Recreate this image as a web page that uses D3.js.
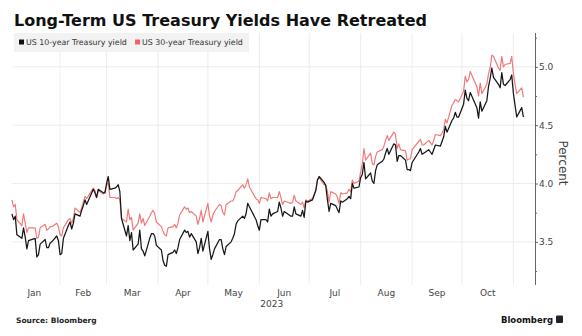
<!DOCTYPE html>
<html>
<head>
<meta charset="utf-8">
<script src="https://cdn.jsdelivr.net/npm/d3@7"></script>
<style>
  html, body { margin: 0; padding: 0; background: #fff; }
  svg { display: block; }
  text { font-family: "DejaVu Sans", sans-serif; }
</style>
</head>
<body>
<svg id="chart" width="582" height="336"></svg>
<script>
// Daily closing yields, 2023 (percent)
const dates = [
  "2023-01-03","2023-01-04","2023-01-05","2023-01-06","2023-01-09","2023-01-10","2023-01-11","2023-01-12","2023-01-13","2023-01-17",
  "2023-01-18","2023-01-19","2023-01-20","2023-01-23","2023-01-24","2023-01-25","2023-01-26","2023-01-27","2023-01-30","2023-01-31",
  "2023-02-01","2023-02-02","2023-02-03","2023-02-06","2023-02-07","2023-02-08","2023-02-09","2023-02-10","2023-02-13","2023-02-14",
  "2023-02-15","2023-02-16","2023-02-17","2023-02-21","2023-02-22","2023-02-23","2023-02-24","2023-02-27","2023-02-28",
  "2023-03-01","2023-03-02","2023-03-03","2023-03-06","2023-03-07","2023-03-08","2023-03-09","2023-03-10","2023-03-13","2023-03-14",
  "2023-03-15","2023-03-16","2023-03-17","2023-03-20","2023-03-21","2023-03-22","2023-03-23","2023-03-24","2023-03-27","2023-03-28",
  "2023-03-29","2023-03-30","2023-03-31",
  "2023-04-03","2023-04-04","2023-04-05","2023-04-06","2023-04-07","2023-04-10","2023-04-11","2023-04-12","2023-04-13","2023-04-14",
  "2023-04-17","2023-04-18","2023-04-19","2023-04-20","2023-04-21","2023-04-24","2023-04-25","2023-04-26","2023-04-27","2023-04-28",
  "2023-05-01","2023-05-02","2023-05-03","2023-05-04","2023-05-05","2023-05-08","2023-05-09","2023-05-10","2023-05-11","2023-05-12",
  "2023-05-15","2023-05-16","2023-05-17","2023-05-18","2023-05-19","2023-05-22","2023-05-23","2023-05-24","2023-05-25","2023-05-26",
  "2023-05-30","2023-05-31",
  "2023-06-01","2023-06-02","2023-06-05","2023-06-06","2023-06-07","2023-06-08","2023-06-09","2023-06-12","2023-06-13","2023-06-14",
  "2023-06-15","2023-06-16","2023-06-20","2023-06-21","2023-06-22","2023-06-23","2023-06-26","2023-06-27","2023-06-28","2023-06-29",
  "2023-06-30",
  "2023-07-03","2023-07-05","2023-07-06","2023-07-07","2023-07-10","2023-07-11","2023-07-12","2023-07-13","2023-07-14","2023-07-17",
  "2023-07-18","2023-07-19","2023-07-20","2023-07-21","2023-07-24","2023-07-25","2023-07-26","2023-07-27","2023-07-28","2023-07-31",
  "2023-08-01","2023-08-02","2023-08-03","2023-08-04","2023-08-07","2023-08-08","2023-08-09","2023-08-10","2023-08-11","2023-08-14",
  "2023-08-15","2023-08-16","2023-08-17","2023-08-18","2023-08-21","2023-08-22","2023-08-23","2023-08-24","2023-08-25","2023-08-28",
  "2023-08-29","2023-08-30","2023-08-31",
  "2023-09-01","2023-09-05","2023-09-06","2023-09-07","2023-09-08","2023-09-11","2023-09-12","2023-09-13","2023-09-14","2023-09-15",
  "2023-09-18","2023-09-19","2023-09-20","2023-09-21","2023-09-22","2023-09-25","2023-09-26","2023-09-27","2023-09-28","2023-09-29",
  "2023-10-02","2023-10-03","2023-10-04","2023-10-05","2023-10-06","2023-10-10","2023-10-11","2023-10-12","2023-10-13","2023-10-16",
  "2023-10-17","2023-10-18","2023-10-19","2023-10-20","2023-10-23","2023-10-24","2023-10-25","2023-10-26","2023-10-27","2023-10-30",
  "2023-10-31",
  "2023-11-01","2023-11-02","2023-11-03","2023-11-06","2023-11-07"
];

const us10y = [
  3.74,3.69,3.72,3.56,3.53,3.62,3.54,3.44,3.51,3.53,
  3.37,3.39,3.48,3.52,3.45,3.45,3.49,3.50,3.55,3.51,
  3.39,3.40,3.53,3.64,3.67,3.61,3.66,3.74,3.72,3.77,
  3.81,3.86,3.82,3.95,3.92,3.88,3.95,3.92,3.92,
  4.00,4.06,3.95,3.96,3.97,3.99,3.93,3.70,3.55,3.64,
  3.51,3.58,3.43,3.48,3.60,3.44,3.42,3.38,3.53,3.57,
  3.57,3.55,3.47,
  3.43,3.34,3.30,3.29,3.39,3.41,3.43,3.40,3.45,3.52,
  3.60,3.58,3.59,3.54,3.57,3.50,3.40,3.45,3.53,3.42,
  3.59,3.44,3.35,3.39,3.44,3.52,3.52,3.44,3.39,3.46,
  3.50,3.53,3.57,3.65,3.68,3.72,3.70,3.74,3.83,3.80,
  3.69,3.64,
  3.60,3.69,3.69,3.67,3.78,3.72,3.74,3.76,3.84,3.79,
  3.72,3.76,3.72,3.72,3.80,3.74,3.72,3.77,3.71,3.85,
  3.84,
  3.86,3.94,4.03,4.06,4.01,3.98,3.86,3.76,3.83,3.81,
  3.78,3.75,3.85,3.84,3.87,3.89,3.87,4.00,3.96,3.97,
  4.05,4.08,4.18,4.04,4.09,4.02,4.00,4.11,4.16,4.19,
  4.21,4.26,4.30,4.25,4.34,4.33,4.19,4.24,4.24,4.20,
  4.12,4.12,4.11,
  4.18,4.27,4.30,4.25,4.26,4.29,4.27,4.25,4.29,4.33,
  4.32,4.36,4.40,4.49,4.44,4.54,4.56,4.61,4.57,4.57,
  4.68,4.80,4.73,4.71,4.78,4.65,4.56,4.70,4.62,4.71,
  4.83,4.90,4.99,4.91,4.85,4.82,4.95,4.85,4.84,4.89,
  4.93,
  4.77,4.67,4.57,4.65,4.57
];

const us30y = [
  3.86,3.80,3.82,3.69,3.64,3.74,3.66,3.58,3.62,3.62,
  3.53,3.54,3.62,3.65,3.60,3.61,3.63,3.63,3.66,3.63,
  3.56,3.55,3.62,3.69,3.70,3.66,3.70,3.79,3.75,3.79,
  3.84,3.89,3.87,3.96,3.94,3.88,3.94,3.91,3.93,
  3.98,4.01,3.88,3.88,3.87,3.88,3.86,3.70,3.67,3.78,
  3.69,3.71,3.60,3.66,3.74,3.66,3.70,3.64,3.72,3.75,
  3.77,3.74,3.67,
  3.63,3.59,3.56,3.55,3.62,3.63,3.65,3.62,3.66,3.73,
  3.80,3.78,3.79,3.75,3.76,3.72,3.65,3.70,3.77,3.67,
  3.83,3.72,3.67,3.73,3.76,3.82,3.81,3.75,3.73,3.82,
  3.85,3.85,3.88,3.93,3.94,3.99,3.96,3.99,4.04,3.97,
  3.87,3.86,
  3.83,3.88,3.87,3.85,3.92,3.87,3.88,3.88,3.93,3.88,
  3.82,3.85,3.83,3.84,3.90,3.85,3.82,3.84,3.79,3.86,
  3.85,
  3.87,3.94,4.03,4.05,3.99,3.99,3.93,3.84,3.93,3.91,
  3.88,3.83,3.92,3.91,3.92,3.95,3.93,4.03,4.00,4.02,
  4.10,4.17,4.30,4.20,4.26,4.17,4.16,4.23,4.27,4.29,
  4.32,4.37,4.41,4.37,4.44,4.42,4.30,4.34,4.29,4.28,
  4.20,4.21,4.21,
  4.29,4.36,4.38,4.33,4.33,4.37,4.35,4.33,4.37,4.42,
  4.41,4.43,4.46,4.55,4.52,4.67,4.69,4.72,4.71,4.70,
  4.79,4.92,4.87,4.89,4.96,4.83,4.75,4.86,4.77,4.85,
  4.94,4.99,5.10,5.09,4.99,4.97,5.09,5.00,5.02,5.03,
  5.09,
  4.94,4.85,4.77,4.82,4.74
];

const seriesNames = ["US 10-year Treasury yield", "US 30-year Treasury yield"];
const seriesColors = ["#161616", "#f07a7a"];
const yTicks = [3.5, 4.0, 4.5, 5.0];
const yMinorTicks = [3.25, 3.75, 4.25, 4.75, 5.25];
const monthLabels = ["Jan","Feb","Mar","Apr","May","Jun","Jul","Aug","Sep","Oct"];
const yearLabel = "2023";
const titleText = "Long-Term US Treasury Yields Have Retreated";
const yAxisTitle = "Percent";
const sourceText = "Source: Bloomberg";
const brandText = "Bloomberg";

const svg = d3.select("#chart");
const parse = d3.utcParse("%Y-%m-%d");

const plot = { left: 8.6, right: 535, top: 33, bottom: 285 };

const x = d3.scaleUtc()
  .domain([parse("2023-01-01"), parse("2023-11-14")])
  .range([plot.left, plot.right]);

const y = d3.scaleLinear()
  .domain([3.13, 5.29])
  .range([plot.bottom, plot.top]);

// Title
const title = svg.append("text")
  .attr("x", 14).attr("y", 26)
  .attr("font-weight", "bold")
  .attr("font-size", 16)
  .attr("fill", "#111")
  .text(titleText);
const tw = title.node().getComputedTextLength();
title.attr("font-size", 16 * 413 / tw);

// Gridlines
const monthStarts = d3.utcMonth.range(parse("2023-02-01"), parse("2023-11-02"));
svg.append("g").selectAll("line").data(monthStarts).join("line")
  .attr("x1", d => x(d)).attr("x2", d => x(d))
  .attr("y1", plot.top).attr("y2", plot.bottom)
  .attr("stroke", "#ececec").attr("stroke-width", 1);

svg.append("g").selectAll("line").data(yTicks).join("line")
  .attr("x1", plot.left + 4).attr("x2", plot.right)
  .attr("y1", d => y(d)).attr("y2", d => y(d))
  .attr("stroke", "#ececec").attr("stroke-width", 1);

// Legend
const legend = svg.append("g");
legend.append("rect")
  .attr("x", 14).attr("y", 33).attr("width", 235).attr("height", 19)
  .attr("fill", "#f2f2f2");
const legendX = [19, 135];
seriesNames.forEach((name, i) => {
  legend.append("rect")
    .attr("x", legendX[i]).attr("y", 39.5).attr("width", 5).attr("height", 5)
    .attr("fill", i === 0 ? "#111" : "#ef6464");
  const t = legend.append("text")
    .attr("x", legendX[i] + 7).attr("y", 45)
    .attr("font-size", 8)
    .attr("fill", "#333")
    .text(name);
  const w = t.node().getComputedTextLength();
  t.attr("font-size", 8 * 101 / w);
});

// Lines (30-year below, 10-year on top)
const rows = dates.map((d, i) => ({ date: parse(d), v10: us10y[i], v30: us30y[i] }));
const line = key => d3.line().x(d => x(d.date)).y(d => y(d[key]));
svg.append("path").datum(rows)
  .attr("d", line("v30"))
  .attr("fill", "none").attr("stroke", seriesColors[1])
  .attr("stroke-width", 1.2).attr("stroke-linejoin", "round");
svg.append("path").datum(rows)
  .attr("d", line("v10"))
  .attr("fill", "none").attr("stroke", seriesColors[0])
  .attr("stroke-width", 1.25).attr("stroke-linejoin", "round");

// Right axis
const axisG = svg.append("g").attr("transform", `translate(${plot.right},0)`);
axisG.call(d3.axisRight(y).tickValues(yTicks).tickFormat(d3.format(".1f"))
  .tickSize(3).tickSizeOuter(0).tickPadding(1));
axisG.select(".domain").attr("stroke", "#666").attr("d", `M0.5,${plot.top}V${plot.bottom}`);
axisG.selectAll(".tick line").attr("stroke", "#666");
axisG.selectAll(".tick text")
  .attr("font-family", "DejaVu Sans, sans-serif")
  .attr("font-size", 9).attr("fill", "#444");
axisG.append("g").selectAll("line").data(yMinorTicks).join("line")
  .attr("x1", 0).attr("x2", 2)
  .attr("y1", d => y(d) + 0.5).attr("y2", d => y(d) + 0.5)
  .attr("stroke", "#666");

svg.append("text")
  .attr("transform", `translate(559,${(plot.top + plot.bottom) / 2 + 4}) rotate(90)`)
  .attr("text-anchor", "middle")
  .attr("font-size", 12).attr("fill", "#444")
  .text(yAxisTitle);

// Month labels centred in each month
const months = d3.utcMonth.range(parse("2023-01-01"), parse("2023-11-01"));
svg.append("g").selectAll("text").data(months).join("text")
  .attr("x", d => (x(d) + x(d3.utcMonth.offset(d, 1))) / 2)
  .attr("y", 296)
  .attr("text-anchor", "middle")
  .attr("font-size", 9).attr("fill", "#444")
  .text((d, i) => monthLabels[i]);

svg.append("text")
  .attr("x", (plot.left + plot.right) / 2).attr("y", 307)
  .attr("text-anchor", "middle")
  .attr("font-size", 9).attr("fill", "#444")
  .text(yearLabel);

// Footer
svg.append("text")
  .attr("x", 16).attr("y", 323)
  .attr("font-weight", "bold").attr("font-size", 7.5).attr("fill", "#222")
  .text(sourceText);

svg.append("text")
  .attr("x", 553).attr("y", 323)
  .attr("text-anchor", "end")
  .attr("font-family", "Liberation Sans, Arial, sans-serif")
  .attr("font-weight", "bold").attr("font-size", 8.5).attr("fill", "#111")
  .text(brandText);
svg.append("rect")
  .attr("x", 556).attr("y", 315.5).attr("width", 7).attr("height", 7.5)
  .attr("rx", 1).attr("fill", "#222");
</script>
</body>
</html>
